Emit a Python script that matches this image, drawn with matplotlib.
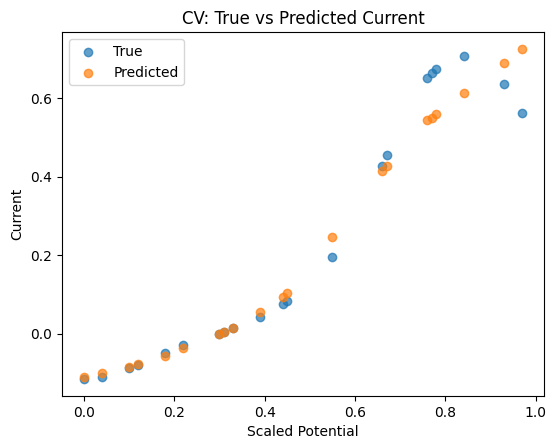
import numpy as np
import matplotlib
matplotlib.use("Agg")
import matplotlib.pyplot as plt

potential = np.array([0.0, 0.04, 0.10, 0.12, 0.18, 0.22, 0.30, 0.31, 0.33, 0.39,
                      0.44, 0.45, 0.55, 0.66, 0.67, 0.76, 0.77, 0.78, 0.84, 0.93, 0.97])
true_current = np.array([-0.117, -0.110, -0.087, -0.079, -0.049, -0.029, 0.0, 0.005, 0.013, 0.043,
                         0.075, 0.084, 0.195, 0.428, 0.454, 0.650, 0.665, 0.675, 0.708, 0.637, 0.562])
pred_current = np.array([-0.110, -0.100, -0.086, -0.078, -0.057, -0.038, 0.0, 0.005, 0.013, 0.055,
                         0.092, 0.104, 0.246, 0.413, 0.428, 0.543, 0.550, 0.560, 0.614, 0.690, 0.726])

fig = plt.figure(figsize=(5.52, 4.4), dpi=100)
ax = fig.add_axes([0.112, 0.1, 0.874, 0.827])
ax.scatter(potential, true_current, alpha=0.7, label="True")
ax.scatter(potential, pred_current, alpha=0.7, label="Predicted")
ax.set_xlabel("Scaled Potential")
ax.set_ylabel("Current")
ax.set_title("CV: True vs Predicted Current")
ax.legend(loc="upper left")
fig.savefig("out.png", dpi=100)
